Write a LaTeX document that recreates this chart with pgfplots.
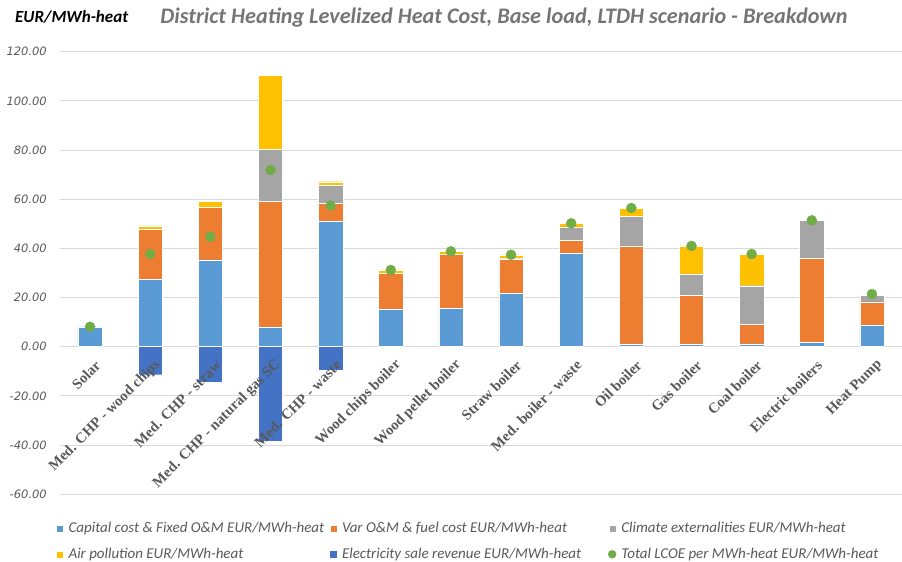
\documentclass[border=0pt]{standalone}
\usepackage{fontspec}
\usepackage{pgfplots}
\usepackage{pgfplotstable}
\pgfplotsset{compat=1.18}
\setmainfont{Carlito}
\newfontfamily\dejavu{DejaVu Sans}[ItalicFont={DejaVu Sans Oblique}]
\newfontfamily\tnr{Liberation Serif}
\newcommand\lgt[1]{{\itshape #1}}

\definecolor{capc}{HTML}{5B9BD5}
\definecolor{varc}{HTML}{ED7D31}
\definecolor{climc}{HTML}{A5A5A5}
\definecolor{airc}{HTML}{FFC000}
\definecolor{elecc}{HTML}{4472C4}
\definecolor{totc}{HTML}{70AD47}
\definecolor{gridc}{HTML}{D9D9D9}
\definecolor{labc}{HTML}{595959}
\definecolor{titc}{HTML}{757575}

% x = technology index; components of the levelized heat cost (EUR/MWh-heat)
\pgfplotstableread{
x  cap   var   clim  air   elec   total
0  8.1   0     0     0     0      8.1
1  27.4  20.2  0     1.5   -11.4  37.7
2  35.3  21.5  0     2.4   -14.5  44.7
3  8.1   50.9  21.4  30.1  -38.6  71.9
4  50.9  7.4   7.2   1.6   -9.7   57.4
5  15.2  14.7  0     1.3   0      31.2
6  15.7  22.1  0     1.0   0      38.8
7  21.6  14.1  0.2   1.5   0      37.4
8  38.1  5.3   5.3   1.5   0      50.2
9  1.1   39.9  11.9  3.5   0      56.4
10 1.1   19.8  8.7   11.4  0      41.0
11 1.1   8.1   15.6  12.9  0      37.7
12 1.8   34.0  15.5  0.1   0      51.4
13 8.7   9.5   2.8   0.4   0      21.4
}\lcoe

\pgfplotsset{
  common/.style={
    at={(60pt,67.8pt)}, anchor=south west,
    scale only axis, width=842pt, height=442.5pt,
    xmin=-0.5, xmax=13.5, ymin=-60, ymax=120,
    major tick length=0pt,
  },
  sq/.style={legend image code/.code={\fill[##1] (0pt,-3.5pt) rectangle (7pt,3.5pt);}},
}

\begin{document}
\begin{tikzpicture}
\path[use as bounding box] (0,0) rectangle (902pt,562pt);

% positive cost components, stacked from zero
\begin{axis}[common,
  ybar stacked, bar width=24.3pt,
  axis x line*=middle, axis y line*=left,
  axis line style={-},
  hide obscured y ticks=false,
  x axis line style={draw=gridc, line width=1pt},
  y axis line style={draw=none},
  ymajorgrids, grid style={draw=gridc, line width=1pt},
  ytick={-60,-40,...,120},
  xtick=\empty,
  /pgf/number format/assume math mode=true,
  yticklabel style={font=\dejavu\itshape\fontsize{11.5}{13}\selectfont, text=labc,
    /pgf/number format/.cd, fixed, fixed zerofill, precision=2, /tikz/.cd,
    anchor=east, inner sep=0pt, xshift=-13pt},
  legend columns=3,
  legend style={at={(axis description cs:0,0)}, anchor=north west,
    xshift=-4pt, yshift=-26pt, draw=none, fill=none, inner sep=0pt,
    font=\itshape\fontsize{15}{17}\selectfont, text=labc,
    row sep=10pt,
    /tikz/every odd column/.append style={column sep=3pt}},
  legend cell align=left,
]
\addplot[sq, fill=capc, draw=white, line width=0.4pt] table[x=x, y=cap] {\lcoe};
\addlegendentry{\makebox[259pt][l]{\lgt{Capital cost \& Fixed O\&M EUR/MWh-heat}}}
\addplot[sq, fill=varc, draw=white, line width=0.4pt] table[x=x, y=var] {\lcoe};
\addlegendentry{\makebox[264pt][l]{\lgt{Var O\&M \& fuel cost EUR/MWh-heat}}}
\addplot[sq, fill=climc, draw=white, line width=0.4pt] table[x=x, y=clim] {\lcoe};
\addlegendentry{\lgt{Climate externalities EUR/MWh-heat}}
\addplot[sq, fill=airc, draw=white, line width=0.4pt] table[x=x, y=air] {\lcoe};
\addlegendentry{\makebox[259pt][l]{\lgt{Air pollution EUR/MWh-heat}}}
\addlegendimage{sq, fill=elecc, draw=none}
\addlegendentry{\makebox[264pt][l]{\lgt{Electricity sale revenue EUR/MWh-heat}}}
\addlegendimage{legend image code/.code={\fill[totc] (3.5pt,0pt) circle (4pt);}}
\addlegendentry{\lgt{Total LCOE per MWh-heat EUR/MWh-heat}}
\end{axis}

% electricity revenue below zero, totals, and category names on top
\begin{axis}[common,
  axis on top,
  axis x line*=middle, axis y line=none,
  axis line style={-},
  x axis line style={draw=none},
  ytick=\empty,
  xtick={0,...,13},
  xticklabels={Solar, Med. CHP - wood chips, Med. CHP - straw, Med. CHP - natural gas SC, Med. CHP - waste, Wood chips boiler, Wood pellet boiler, Straw boiler, Med. boiler - waste, Oil boiler, Gas boiler, Coal boiler, Electric boilers, Heat Pump},
  xticklabel style={font=\tnr\bfseries\fontsize{14.7}{16}\selectfont, text=labc,
    yshift=-16pt, xshift=8pt, rotate=45, anchor=east, inner sep=0pt},
]
\addplot[ybar, bar width=24.3pt, bar shift=0pt, fill=elecc, draw=white, line width=0.4pt]
  table[x=x, y=elec] {\lcoe};
\addplot[only marks, mark=*, mark size=5pt, color=totc] table[x=x, y=total] {\lcoe};
\end{axis}

\node[anchor=west, font=\bfseries\itshape\fontsize{17}{19}\selectfont, text=black, inner sep=0pt]
  at (15pt,545pt) {EUR/MWh-heat};
\node[font=\bfseries\itshape\fontsize{22.2}{26}\selectfont, text=titc, inner sep=0pt]
  at (504pt,544pt) {District Heating Levelized Heat Cost, Base load, LTDH scenario - Breakdown};
\end{tikzpicture}
\end{document}
